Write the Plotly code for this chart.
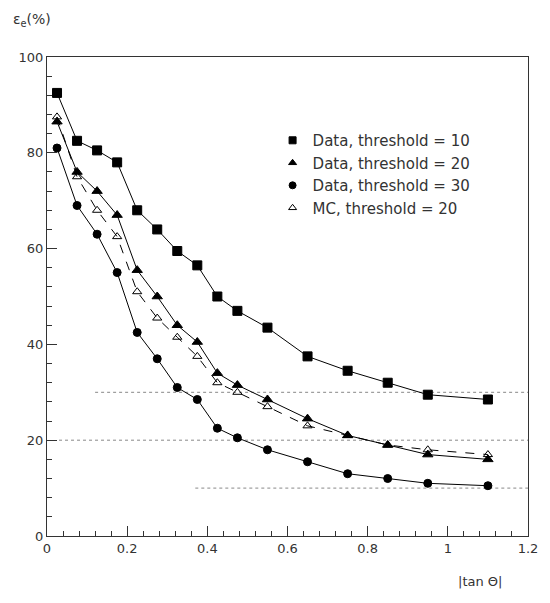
import plotly.graph_objects as go

x = [0.025, 0.075, 0.125, 0.175, 0.225, 0.275, 0.325, 0.375, 0.425, 0.475,
     0.55, 0.65, 0.75, 0.85, 0.95, 1.1]
data_t10 = [92.5, 82.5, 80.5, 78, 68, 64, 59.5, 56.5, 50, 47, 43.5, 37.5, 34.5, 32, 29.5, 28.5]
data_t20 = [86.5, 76, 72, 67, 55.5, 50, 44, 40.5, 34, 31.5, 28.5, 24.5, 21, 19, 17, 16]
data_t30 = [81, 69, 63, 55, 42.5, 37, 31, 28.5, 22.5, 20.5, 18, 15.5, 13, 12, 11, 10.5]
mc_t20 = [87.5, 75, 68, 62.5, 51, 45.5, 41.5, 37.5, 32, 30, 27, 23, 21, 19, 18, 17]

names = ["Data, threshold = 10", "Data, threshold = 20",
         "Data, threshold = 30", "MC, threshold = 20"]

# dotted reference lines: (y level, x start, x end)
ref_lines = [(30, 0.12, 1.2), (20, 0.03, 1.2), (10, 0.37, 1.2)]

series = [
    (data_t10, "square", 9, "solid"),
    (data_t20, "triangle-up", 9, "solid"),
    (data_t30, "circle", 8, "solid"),
    (mc_t20, "triangle-up-open", 8, "dash"),
]

fig = go.Figure()
for (yv, sym, sz, dash), nm in zip(series, names):
    fig.add_trace(go.Scatter(
        x=x, y=yv, mode="lines+markers", showlegend=False,
        line=dict(color="black", width=1, dash=dash),
        marker=dict(symbol=sym, size=sz, color="black",
                    line=dict(color="black", width=1))))
for (yv, sym, sz, dash), nm in zip(series, names):
    fig.add_trace(go.Scatter(
        x=[None], y=[None], mode="markers", name=nm,
        marker=dict(symbol=sym, size=7, color="black",
                    line=dict(color="black", width=1))))

for yl, x0, x1 in ref_lines:
    fig.add_shape(type="line", x0=x0, x1=x1, y0=yl, y1=yl, xref="x", yref="y",
                  line=dict(color="#888", width=1, dash="dot"), layer="below")

fam = "DejaVu Sans, Verdana, sans-serif"
font = dict(family=fam, size=13, color="#333")
fig.update_layout(
    width=550, height=603,
    margin=dict(l=47, r=15, t=57, b=67),
    paper_bgcolor="white", plot_bgcolor="white",
    font=font,
    legend=dict(x=0.469, y=0.86, xanchor="left", yanchor="top",
                bgcolor="rgba(0,0,0,0)", font=dict(family=fam, size=15, color="#333"),
                tracegroupgap=0, itemwidth=30),
    xaxis=dict(range=[0, 1.2], dtick=0.2, tick0=0, showgrid=False, zeroline=False,
               ticks="inside", ticklen=10, tickcolor="#333", showline=True,
               linecolor="#333", linewidth=1, mirror=True,
               minor=dict(dtick=0.04, ticks="inside", ticklen=5, tickcolor="#333"),
               tickformat="~g"),
    yaxis=dict(range=[0, 100], dtick=20, tick0=0, showgrid=False, zeroline=False,
               ticks="inside", ticklen=10, tickcolor="#333", showline=True,
               linecolor="#333", linewidth=1, mirror=True,
               minor=dict(dtick=4, ticks="inside", ticklen=5, tickcolor="#333")),
    annotations=[
        dict(text="ε<sub>e</sub>(%)", xref="paper", yref="paper", x=-0.075, y=1.055,
             xanchor="left", yanchor="bottom", showarrow=False,
             font=dict(family=fam, size=14, color="#333")),
        dict(text="|tan Θ|", xref="paper", yref="paper", x=0.95, y=-0.075,
             xanchor="right", yanchor="top", showarrow=False,
             font=dict(family=fam, size=13, color="#333")),
    ],
)
fig.write_html("out.html")
